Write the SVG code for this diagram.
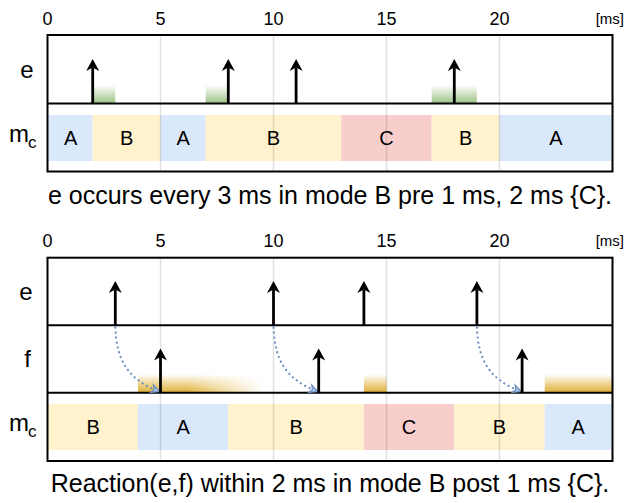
<svg xmlns="http://www.w3.org/2000/svg" width="629" height="503" viewBox="0 0 629 503">
  <style>
    text { font-family: "Liberation Sans", Arial, Helvetica, sans-serif; fill: #000; }
    .tick { font-size: 18px; text-anchor: middle; }
    .unit { font-size: 15px; text-anchor: end; }
    .lbl { font-size: 24px; text-anchor: middle; }
    .mode { font-size: 20px; text-anchor: middle; }
    .cap { font-size: 25px; text-anchor: middle; }
    .frame { fill: none; stroke: #000; stroke-width: 2; }
    .div { stroke: #000; stroke-width: 2; }
    .grid { stroke: #000; stroke-opacity: 0.12; stroke-width: 1.5; }
    .mA { fill: #dae8fc; }
    .mB { fill: #fff2cc; }
    .mC { fill: #f8cecc; }
    .ev { stroke: #000; stroke-width: 2.8; fill: none; marker-end: url(#head); }
    .react { stroke: #6c8ebf; stroke-width: 2; stroke-dasharray: 2 3; fill: none; marker-end: url(#bhead); }
    .win-g { fill: url(#gGreen); }
    .win-o { fill: url(#gOrange); }
  </style>
  <defs>
    <marker id="head" markerUnits="userSpaceOnUse" markerWidth="16" markerHeight="16" viewBox="-1 -8 16 16" refX="3.5" refY="0" orient="auto" overflow="visible">
      <path d="M12 0 L0 -6.5 L3.5 0 L0 6.5 Z" fill="#000"/>
    </marker>
    <marker id="bhead" markerUnits="userSpaceOnUse" markerWidth="12" markerHeight="12" viewBox="-1 -6 12 12" refX="8" refY="0" orient="auto" overflow="visible">
      <path d="M8 0 L0 -4 L2.5 0 L0 4 Z" fill="#a9c4eb" stroke="#6c8ebf" stroke-width="1.2" stroke-linejoin="miter"/>
    </marker>
    <linearGradient id="gGreen" x1="0" y1="0" x2="0" y2="1">
      <stop offset="0" stop-color="#82b366" stop-opacity="0"/>
      <stop offset="1" stop-color="#82b366" stop-opacity="0.8"/>
    </linearGradient>
    <linearGradient id="gOrange" x1="0" y1="0" x2="0" y2="1">
      <stop offset="0" stop-color="#d79b00" stop-opacity="0"/>
      <stop offset="1" stop-color="#d79b00" stop-opacity="0.8"/>
    </linearGradient>
    <linearGradient id="hFade" gradientUnits="userSpaceOnUse" x1="188" y1="0" x2="262" y2="0">
      <stop offset="0" stop-color="#fff"/>
      <stop offset="1" stop-color="#000"/>
    </linearGradient>
    <mask id="fadeRight" maskUnits="userSpaceOnUse" x="0" y="0" width="629" height="503">
      <rect x="130" y="370" width="140" height="25" fill="url(#hFade)"/>
    </mask>
  </defs>

  <!-- ===== Upper chart: periodic event e ===== -->
  <g id="top-axis">
    <text class="tick" x="47.5" y="25">0</text>
    <text class="tick" x="160.5" y="25">5</text>
    <text class="tick" x="273.5" y="25">10</text>
    <text class="tick" x="386.5" y="25">15</text>
    <text class="tick" x="499.5" y="25">20</text>
    <text class="unit" x="624" y="24">[ms]</text>
  </g>

  <g id="top-modes">
    <rect class="mA" x="48.5" y="115" width="44.2" height="46"/>
    <rect class="mB" x="92.7" y="115" width="67.8" height="46"/>
    <rect class="mA" x="160.5" y="115" width="45.2" height="46"/>
    <rect class="mB" x="205.7" y="115" width="135.6" height="46"/>
    <rect class="mC" x="341.3" y="115" width="90.4" height="46"/>
    <rect class="mB" x="431.7" y="115" width="67.8" height="46"/>
    <rect class="mA" x="499.5" y="115" width="112" height="46"/>
    <text class="mode" x="70.6" y="145">A</text>
    <text class="mode" x="126.6" y="145">B</text>
    <text class="mode" x="183.1" y="145">A</text>
    <text class="mode" x="273.5" y="145">B</text>
    <text class="mode" x="386.5" y="145">C</text>
    <text class="mode" x="465.6" y="145">B</text>
    <text class="mode" x="556" y="145">A</text>
  </g>

  <g id="top-windows">
    <rect class="win-g" x="92.7" y="85" width="22.6" height="18.5"/>
    <rect class="win-g" x="205.7" y="85" width="22.6" height="18.5"/>
    <rect class="win-g" x="431.7" y="85" width="45.2" height="18.5"/>
  </g>

  <g id="top-grid">
    <line class="grid" x1="160.5" y1="36" x2="160.5" y2="170.5"/>
    <line class="grid" x1="273.5" y1="36" x2="273.5" y2="170.5"/>
    <line class="grid" x1="386.5" y1="36" x2="386.5" y2="170.5"/>
    <line class="grid" x1="499.5" y1="36" x2="499.5" y2="170.5"/>
  </g>

  <g id="top-frame">
    <rect class="frame" x="47.5" y="35" width="565" height="136.5"/>
    <line class="div" x1="47.5" y1="103.5" x2="612.5" y2="103.5"/>
    <text class="lbl" x="27" y="78">e</text>
    <text x="9" y="141.7" font-size="24">m</text>
    <text x="28" y="148" font-size="17">c</text>
  </g>

  <g id="top-e-events">
    <line class="ev" x1="92.7" y1="103.5" x2="92.7" y2="67.5"/>
    <line class="ev" x1="228.3" y1="103.5" x2="228.3" y2="67.5"/>
    <line class="ev" x1="296.1" y1="103.5" x2="296.1" y2="67.5"/>
    <line class="ev" x1="454.3" y1="103.5" x2="454.3" y2="67.5"/>
  </g>

  <text id="top-caption" class="cap" x="330" y="203.5">e occurs every 3 ms in mode B pre 1 ms, 2 ms {C}.</text>

  <!-- ===== Lower chart: reaction e -> f ===== -->
  <g id="bottom-axis">
    <text class="tick" x="47.5" y="247">0</text>
    <text class="tick" x="160.5" y="247">5</text>
    <text class="tick" x="273.5" y="247">10</text>
    <text class="tick" x="386.5" y="247">15</text>
    <text class="tick" x="499.5" y="247">20</text>
    <text class="unit" x="624" y="246">[ms]</text>
  </g>

  <g id="bottom-modes">
    <rect class="mB" x="48.5" y="404" width="89.4" height="46"/>
    <rect class="mA" x="137.9" y="404" width="90.4" height="46"/>
    <rect class="mB" x="228.3" y="404" width="135.6" height="46"/>
    <rect class="mC" x="363.9" y="404" width="90.4" height="46"/>
    <rect class="mB" x="454.3" y="404" width="90.4" height="46"/>
    <rect class="mA" x="544.7" y="404" width="66.8" height="46"/>
    <text class="mode" x="93.2" y="434">B</text>
    <text class="mode" x="183.1" y="434">A</text>
    <text class="mode" x="296.1" y="434">B</text>
    <text class="mode" x="409.1" y="434">C</text>
    <text class="mode" x="499.5" y="434">B</text>
    <text class="mode" x="578.1" y="434">A</text>
  </g>

  <g id="bottom-windows">
    <rect class="win-o" x="137.9" y="374" width="125" height="18.7" mask="url(#fadeRight)"/>
    <rect class="win-o" x="363.9" y="374" width="22.6" height="18.7"/>
    <rect class="win-o" x="544.7" y="374" width="67.8" height="18.7"/>
  </g>

  <g id="bottom-grid">
    <line class="grid" x1="160.5" y1="258.7" x2="160.5" y2="460"/>
    <line class="grid" x1="273.5" y1="258.7" x2="273.5" y2="460"/>
    <line class="grid" x1="386.5" y1="258.7" x2="386.5" y2="460"/>
    <line class="grid" x1="499.5" y1="258.7" x2="499.5" y2="460"/>
  </g>

  <g id="bottom-frame">
    <rect class="frame" x="47.5" y="257.7" width="565" height="203.3"/>
    <line class="div" x1="47.5" y1="325.3" x2="612.5" y2="325.3"/>
    <line class="div" x1="47.5" y1="392.7" x2="612.5" y2="392.7"/>
    <text class="lbl" x="26" y="300">e</text>
    <text class="lbl" x="27.5" y="367">f</text>
    <text x="9" y="430.7" font-size="24">m</text>
    <text x="28" y="437" font-size="17">c</text>
  </g>

  <g id="connectors">
    <path class="react" d="M115.3 326.5 C116.3 362 129.3 380 159.5 391.5"/>
    <path class="react" d="M273.5 326.5 C274.5 362 287.5 380 317.7 391.5"/>
    <path class="react" d="M476.9 326.5 C477.9 362 490.9 380 521.1 391.5"/>
  </g>

  <g id="bottom-e-events">
    <line class="ev" x1="115.3" y1="325.3" x2="115.3" y2="289.5"/>
    <line class="ev" x1="273.5" y1="325.3" x2="273.5" y2="289.5"/>
    <line class="ev" x1="363.9" y1="325.3" x2="363.9" y2="289.5"/>
    <line class="ev" x1="476.9" y1="325.3" x2="476.9" y2="289.5"/>
  </g>

  <g id="bottom-f-events">
    <line class="ev" x1="160.5" y1="392.7" x2="160.5" y2="357"/>
    <line class="ev" x1="318.7" y1="392.7" x2="318.7" y2="357"/>
    <line class="ev" x1="522.1" y1="392.7" x2="522.1" y2="357"/>
  </g>

  <text id="bottom-caption" class="cap" x="330" y="492">Reaction(e,f) within 2 ms in mode B post 1 ms {C}.</text>
</svg>
